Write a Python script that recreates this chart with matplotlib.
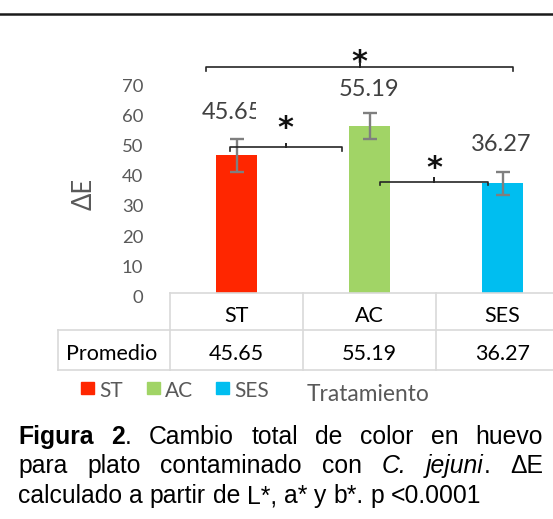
import matplotlib
matplotlib.use("Agg")
import matplotlib.pyplot as plt
from matplotlib.lines import Line2D
from matplotlib.patches import Rectangle
from matplotlib.transforms import Affine2D, ScaledTranslation, blended_transform_factory

# ---- data ----
categories = ["ST", "AC", "SES"]
means = [45.65, 55.19, 36.27]
errors = [5.5, 4.3, 3.9]
colors = ["#FF2600", "#A1D466", "#00BEF0"]
row_label = "Promedio"
yticks = [0, 10, 20, 30, 40, 50, 60, 70]
# significance brackets: (left x, right x, height, star centre height)
brackets = [(-0.23, 2.08, 74.9, 79.1),
            (-0.05, 0.79, 48.2, 57.3),
            (1.08, 1.89, 36.9, 44.0)]
label_pos = [(-0.034, 57.5), (1.0, 65.2), (1.99, 47.1)]

W, H = 553, 519
fig = plt.figure(figsize=(W / 100, H / 100), dpi=100)
fig.patch.set_facecolor("white")
# pixel transform with origin at top-left
pix = Affine2D().scale(1, -1).translate(0, H)

AX_L, AX_R, AX_B, AX_T = 170, 553, 293, 81.6
ax = fig.add_axes([AX_L / W, (H - AX_B) / H, (AX_R - AX_L) / W, (AX_B - AX_T) / H])
ax.set_xlim(-0.5, -0.5 + (AX_R - AX_L) / 133)
ax.set_ylim(0, 70)
for s in ax.spines.values():
    s.set_visible(False)
ax.set_xticks([])
ax.set_yticks(yticks)
ax.tick_params(axis="y", length=0, pad=19.2, labelsize=13.3, labelcolor="#595959")
for lab in ax.get_yticklabels():
    lab.set_family("Lato")
    lab.set_transform(lab.get_transform() + ScaledTranslation(0, -3.5 / 100, fig.dpi_scale_trans))

xs = list(range(len(categories)))
ax.bar(xs, means, width=0.31, color=colors, zorder=2)
ax.errorbar(xs, means, yerr=errors, fmt="none", ecolor="#7F7F7F",
            elinewidth=1.7, capsize=5, capthick=1.7, zorder=3)

# value labels above bars (the first one is cut by the bracket's label box)
for i, (v, (lx, ly)) in enumerate(zip(means, label_pos)):
    t = ax.text(lx, ly, f"{v:.2f}", ha="center", va="baseline", fontsize=17,
                family="Lato", color="#404040", clip_on=(i == 0))
    if i == 0:
        t.set_clip_path(Rectangle((-1.5, 0), 1.647, 100, transform=ax.transData))

# significance brackets
d = 1.3
for x0, x1, y, sy in brackets:
    xm = (x0 + x1) / 2
    ax.plot([x0, x0, xm, xm, xm, x1, x1], [y - d, y, y, y + d, y, y, y - d],
            color="#262626", lw=1.2, clip_on=False, zorder=4)
    ax.text(xm, sy - 5.6, "*", ha="center", va="baseline", fontsize=22,
            family="DejaVu Sans", weight="bold", color="#111111", clip_on=False)

# data table below the plot
grid = dict(color="#D9D9D9", lw=1.2, clip_on=False)
bx = blended_transform_factory(ax.transData, pix)
right = 2.7
for yy in (293, 330, 370):
    ax.add_line(Line2D([-0.5, right], [yy, yy], transform=bx, **grid))
for xx in (-0.5, 0.5, 1.5, 2.5):
    ax.add_line(Line2D([xx, xx], [293, 370], transform=bx, **grid))
fig.add_artist(Line2D([58, 170], [330, 330], transform=pix, **grid))
fig.add_artist(Line2D([58, 170], [370, 370], transform=pix, **grid))
fig.add_artist(Line2D([58, 58], [330, 370], transform=pix, **grid))

for i, (c, v) in enumerate(zip(categories, means)):
    ax.text(i, 321.5, c, transform=bx, ha="center", va="baseline", fontsize=15.5,
            family="Lato", color="black", clip_on=False)
    ax.text(i, 360, f"{v:.2f}", transform=bx, ha="center", va="baseline", fontsize=15.5,
            family="Lato", color="black", clip_on=False)
fig.text(112, 360, row_label, transform=pix, ha="center", va="baseline",
         fontsize=15.5, family="Lato", color="black")

# legend keys
key_x = [81, 147, 216]
for kx, c, col in zip(key_x, categories, colors):
    fig.add_artist(Rectangle((kx, 394), 13, -12.5, transform=pix, color=col))
    fig.text(kx + 18, 397.3, c, transform=pix, ha="left", va="baseline",
             fontsize=15, family="Lato", color="#595959")
fig.text(368, 400.7, "Tratamiento", transform=pix, ha="center", va="baseline",
         fontsize=16.4, family="Lato", color="#595959")

# y-axis title
fig.text(91.7, 194, "ΔE", transform=pix, ha="center", va="baseline", rotation=90,
         rotation_mode="anchor", fontsize=18.4, family="Lato", color="#595959")

# rule at the top of the page
fig.add_artist(Line2D([0, W], [14.3, 14.3], transform=pix, color="#1A1A1A", lw=1.8))

# caption, justified
CAP_FS = 17.8
CAP_FAM = "Liberation Sans"
renderer = fig.canvas.get_renderer()


def text_width(s, **kw):
    t = fig.text(0, 0, s, fontsize=CAP_FS, family=CAP_FAM, **kw)
    w = t.get_window_extent(renderer).width
    t.remove()
    return w


space_w = text_width("a a") - text_width("aa")


def place_line(tokens, y, x0, x1, justify):
    words = []
    for tok in tokens:
        parts = []
        for s, st in tok:
            t = fig.text(0, y, s, transform=pix, fontsize=CAP_FS, family=CAP_FAM,
                         va="baseline", ha="left", color="black", **st)
            parts.append((t, t.get_window_extent(renderer).width))
        words.append(parts)
    widths = [sum(w for _, w in p) for p in words]
    gap = (x1 - x0 - sum(widths)) / (len(words) - 1) if justify else space_w
    x = x0
    for parts in words:
        for t, w in parts:
            t.set_x(x)
            x += w
        x += gap


B = {"weight": "bold"}
I = {"style": "italic"}
N = {}
line1 = [[("Figura", B)], [("2", B), (".", N)], [("Cambio", N)], [("total", N)],
         [("de", N)], [("color", N)], [("en", N)], [("huevo", N)]]
line2 = [[("para", N)], [("plato", N)], [("contaminado", N)], [("con", N)],
         [("C.", I)], [("jejuni", I), (".", N)], [("ΔE", N)]]
line3 = [[(w, N)] for w in "calculado a partir de L*, a* y b*. p <0.0001".split(" ")]
place_line(line1, 444, 18.3, 543, True)
place_line(line2, 473.3, 18.3, 543, True)
place_line(line3, 503.3, 18.3, 543, False)

fig.savefig("out.png", dpi=100)
